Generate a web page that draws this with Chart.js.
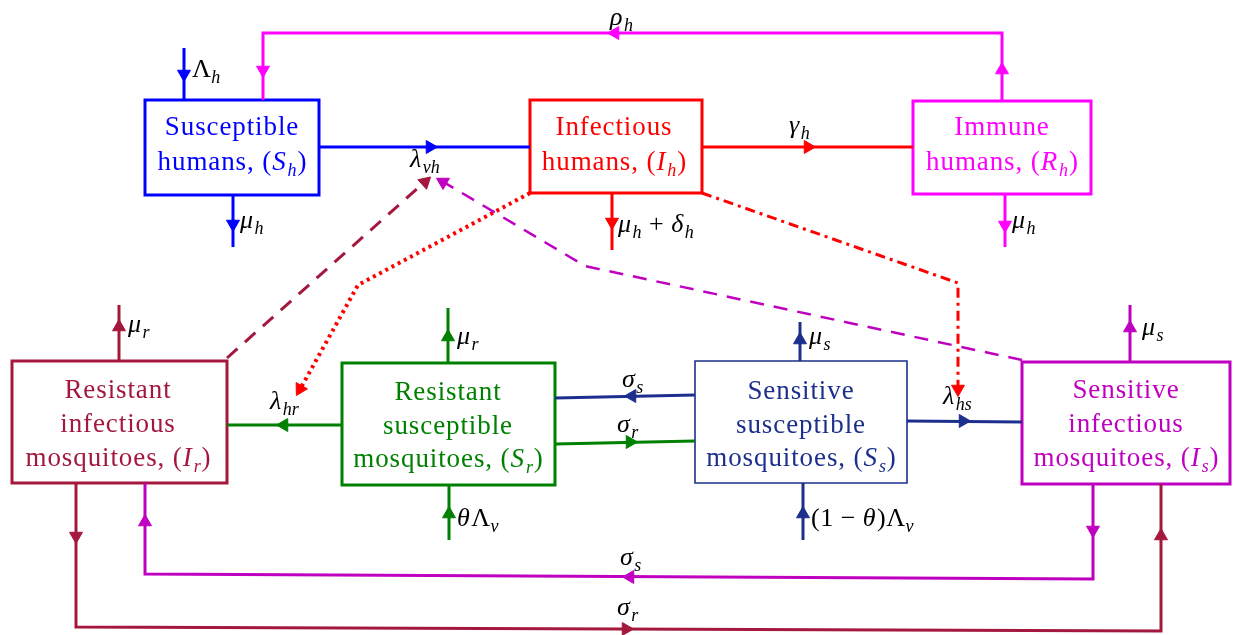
<!DOCTYPE html>
<html>
<head>
<meta charset="utf-8">
<script src="https://cdn.jsdelivr.net/npm/chart.js@4.4.0/dist/chart.umd.min.js"></script>
<style>
html, body { margin: 0; background: #fff; }
#wrap { width: 1235px; height: 635px; }
</style>
</head>
<body>
<div id="wrap"><canvas id="diagram"></canvas></div>
<script>
// Compartment model diagram (humans + resistant/sensitive mosquitoes)

// compartments: key, text lines, corners [x1, y1, x2, y2]
const boxKeys = ['Sh', 'Ih', 'Rh', 'Ir', 'Sr', 'Ss', 'Is'];
const boxText = [
    ['Susceptible', 'humans, $(S_h)$'],
    ['Infectious', 'humans, $(I_h)$'],
    ['Immune', 'humans, $(R_h)$'],
    ['Resistant', 'infectious', 'mosquitoes, $(I_r)$'],
    ['Resistant', 'susceptible', 'mosquitoes, $(S_r)$'],
    ['Sensitive', 'susceptible', 'mosquitoes, $(S_s)$'],
    ['Sensitive', 'infectious', 'mosquitoes, $(I_s)$']
];
const boxCorners = [
    [145, 100, 319, 195],
    [530, 100, 702, 193],
    [913, 101, 1091, 194],
    [12, 361, 227, 483],
    [342, 363, 555, 485],
    [695, 361, 907, 483],
    [1022, 362, 1230, 484]
];
const boxTextCenter = [232, 614, 1002, 118, 448, 801, 1126];
const boxTextBaselines = [[135, 170], [135, 170], [135, 170], [398, 432, 466], [400, 434, 467], [399, 433, 466], [398, 432, 466]];

// flows: colour key, path points
const flowKeys = ['Rh', 'Sh', 'Sh', 'Sh', 'Ih', 'Ih', 'Rh', 'Ir', 'Is', 'Ih', 'Ih',
    'Ir', 'Sr', 'Sr', 'Sr', 'Ss', 'Sr', 'Ss', 'Ss', 'Ss', 'Is', 'Is', 'Ir'];
const flowPaths = [
    [[1002, 100], [1002, 33], [263, 33], [263, 100]],
    [[184, 48], [184, 100]],
    [[233, 195], [233, 247]],
    [[319, 147], [530, 147]],
    [[612, 193], [612, 250]],
    [[702, 147], [913, 147]],
    [[1005, 194], [1005, 247]],
    [[227, 358], [428, 179]],
    [[1022, 360], [585, 266], [440, 180]],
    [[530, 193], [358, 285], [298, 393]],
    [[702, 193], [958, 283], [958, 392]],
    [[119, 305], [119, 361]],
    [[342, 425], [227, 425]],
    [[448, 308], [448, 363]],
    [[449, 485], [449, 540]],
    [[695, 395], [555, 398]],
    [[555, 444], [695, 441]],
    [[800, 322], [800, 361]],
    [[803, 483], [803, 540]],
    [[907, 421], [1022, 422]],
    [[1130, 305], [1130, 362]],
    [[1093, 484], [1093, 579], [145, 574], [145, 483]],
    [[76, 483], [76, 627], [1161, 631], [1161, 484]]
];
const flowLineStyle = ['', '', '', '', '', '', '', 'dash', 'dash', 'dot', 'dashdot',
    '', '', '', '', '', '', '', '', '', '', '', ''];

// arrowheads: x, y, rotation (deg, 0 = up), colour key
const arrowHeads = [
    [1002, 70, 0, 'Rh'], [615, 33, 270, 'Rh'], [263, 70, 180, 'Rh'],
    [184, 74, 180, 'Sh'], [233, 224, 180, 'Sh'], [430, 147, 90, 'Sh'],
    [612, 222, 180, 'Ih'], [808, 147, 90, 'Ih'], [1005, 225, 180, 'Rh'],
    [425, 182, 48, 'Ir'], [443, 182, 300, 'Is'], [300, 389, 209, 'Ih'], [958, 389, 180, 'Ih'],
    [119, 327, 0, 'Ir'], [284, 425, 270, 'Sr'], [448, 337, 0, 'Sr'], [449, 514, 0, 'Sr'],
    [632, 396, 270, 'Ss'], [630, 442, 90, 'Sr'], [800, 340, 0, 'Ss'], [803, 514, 0, 'Ss'],
    [963, 421, 90, 'Ss'], [1130, 328, 0, 'Is'],
    [1093, 530, 180, 'Is'], [630, 577, 270, 'Is'], [145, 522, 0, 'Is'],
    [76, 536, 180, 'Ir'], [626, 629, 90, 'Ir'], [1161, 536, 0, 'Ir']
];

// rate labels: text, left x, baseline y
const rateLabels = [
    ['$ρ_h$', 610, 25], ['$Λ_h$', 192, 77], ['$μ_h$', 240, 228], ['$λ_{vh}$', 410, 167],
    ['$γ_h$', 789, 133], ['$μ_h + δ_h$', 618, 232], ['$μ_h$', 1012, 228],
    ['$μ_r$', 128, 332], ['$λ_{hr}$', 270, 409], ['$μ_r$', 457, 344], ['$θΛ_v$', 457, 526],
    ['$σ_s$', 622, 387], ['$σ_r$', 617, 432], ['$μ_s$', 809, 344], ['$(1 − θ)Λ_v$', 811, 526],
    ['$λ_{hs}$', 943, 404], ['$μ_s$', 1142, 335], ['$σ_s$', 620, 565], ['$σ_r$', 617, 615]
];

const colors = {
    Sh: '#0000ff', Ih: '#ff0000', Rh: '#ff00ff', Ir: '#a3183c',
    Sr: '#008000', Ss: '#1c2f8c', Is: '#c000c0'
};
const dashes = { '': [], dash: [14, 10], dot: [3, 4], dashdot: [10, 5, 3, 5] };

const pt = p => ({ x: p[0], y: p[1] });

// ----- datasets -----
const datasets = [];

datasets.push({
    data: arrowHeads.map(a => ({ x: a[0], y: a[1] })),
    showLine: false,
    pointStyle: 'triangle',
    pointRadius: 7.5,
    pointRotation: arrowHeads.map(a => a[2]),
    pointBackgroundColor: arrowHeads.map(a => colors[a[3]]),
    pointBorderColor: arrowHeads.map(a => colors[a[3]]),
    pointBorderWidth: 1,
    clip: false
});

flowPaths.forEach((path, i) => {
    const style = flowLineStyle[i];
    datasets.push({
        data: path.map(pt),
        showLine: true,
        borderColor: colors[flowKeys[i]],
        borderWidth: style === 'dot' ? 4 : (style === 'dash' && flowKeys[i] === 'Is' ? 2.5 : 3),
        borderDash: dashes[style],
        pointRadius: 0,
        tension: 0,
        clip: false
    });
});

boxCorners.forEach((b, i) => {
    const [x1, y1, x2, y2] = b;
    const mid = (x1 + x2) / 2;
    datasets.push({
        data: [[mid, y1], [x2, y1], [x2, y2], [x1, y2], [x1, y1], [mid, y1]].map(pt),
        showLine: true,
        borderColor: colors[boxKeys[i]],
        borderWidth: boxKeys[i] === 'Ss' ? 1.6 : 3,
        borderJoinStyle: 'miter',
        pointRadius: 0,
        tension: 0,
        clip: false
    });
});

// ----- rich text (plain text with $math$ parts) -----
function parseRich(s) {
    const out = [];
    let math = false;
    for (let i = 0; i < s.length; i++) {
        const c = s[i];
        if (c === '$') { math = !math; continue; }
        if (math && c === '_') {
            let sub;
            if (s[i + 1] === '{') {
                const j = s.indexOf('}', i);
                sub = s.slice(i + 2, j);
                i = j;
            } else {
                sub = s[i + 1];
                i++;
            }
            out.push({ t: sub, k: 'sub' });
            continue;
        }
        if (!math) out.push({ t: c, k: 'rm' });
        else out.push({ t: c, k: /[A-Za-zα-ω]/.test(c) ? 'it' : 'rm' });
    }
    return out;
}

function fontFor(k, size) {
    if (k === 'it') return 'italic ' + size + 'px "Liberation Serif"';
    if (k === 'sub') return 'italic ' + Math.round(size * 0.68) + 'px "Liberation Serif"';
    return size + 'px "Liberation Serif"';
}

function richWidth(ctx, pieces, size, spacing) {
    let w = 0;
    pieces.forEach(p => { ctx.font = fontFor(p.k, size); w += ctx.measureText(p.t).width + spacing; });
    return w;
}

function drawRich(ctx, pieces, x, y, size, color, spacing) {
    ctx.fillStyle = color;
    ctx.textBaseline = 'alphabetic';
    ctx.textAlign = 'left';
    pieces.forEach(p => {
        ctx.font = fontFor(p.k, size);
        ctx.fillText(p.t, x, p.k === 'sub' ? y + size * 0.24 : y);
        x += ctx.measureText(p.t).width + spacing + (p.k === 'it' ? 1 : 0);
    });
}

const textPlugin = {
    id: 'diagramText',
    afterDatasetsDraw(chart) {
        const ctx = chart.ctx;
        const xs = chart.scales.x, ys = chart.scales.y;
        ctx.save();
        boxText.forEach((lines, i) => {
            lines.forEach((line, j) => {
                const pieces = parseRich(line);
                const size = 27, spacing = 0.9;
                const w = richWidth(ctx, pieces, size, spacing);
                const cx = xs.getPixelForValue(boxTextCenter[i]);
                const by = ys.getPixelForValue(boxTextBaselines[i][j]);
                drawRich(ctx, pieces, cx - w / 2, by, size, colors[boxKeys[i]], spacing);
            });
        });
        rateLabels.forEach(l => {
            drawRich(ctx, parseRich(l[0]), xs.getPixelForValue(l[1]), ys.getPixelForValue(l[2]), 26, '#000', 0.5);
        });
        ctx.restore();
    }
};

new Chart(document.getElementById('diagram'), {
    type: 'scatter',
    data: { datasets },
    options: {
        responsive: true,
        maintainAspectRatio: false,
        animation: false,
        layout: { padding: 0, autoPadding: false },
        plugins: {
            legend: { display: false },
            tooltip: { enabled: false }
        },
        scales: {
            x: { type: 'linear', display: false, min: 0, max: 1235 },
            y: { type: 'linear', display: false, min: 0, max: 635, reverse: true }
        }
    },
    plugins: [textPlugin]
});
</script>
</body>
</html>
